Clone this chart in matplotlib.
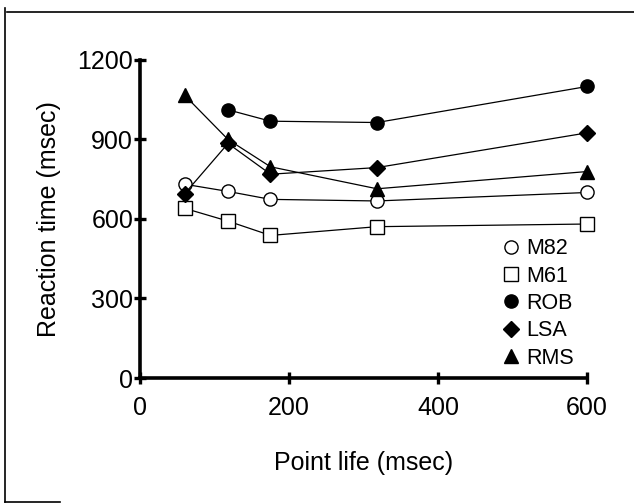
import numpy as np
import matplotlib.pyplot as plt
from matplotlib.lines import Line2D

plt.rcParams['font.family'] = ['Liberation Sans', 'DejaVu Sans']

# Vida do ponto (msec) e tempos de reacao (msec) por sujeito
vida = [60, 118, 175, 318, 600]
m82 = [731, 704, 674, 668, 700]
m61 = [640, 592, 538, 571, 581]
rob_x = [118, 175, 318, 600]
rob = [1012, 969, 964, 1100]
lsa = [696, 885, 769, 794, 925]
rms = [1066, 900, 797, 714, 779]

fig = plt.figure(figsize=(6.34, 5.04), dpi=100)
ax = fig.add_axes([0.221, 0.25, 0.705, 0.631])

estilo = dict(color='black', linewidth=0.9, markersize=9.5, clip_on=False,
              markeredgecolor='black', markeredgewidth=1.0)
ax.plot(vida, m82, marker='o', markerfacecolor='white', label='M82', **estilo)
ax.plot(vida, m61, marker='s', markerfacecolor='white', label='M61', **estilo)
ax.plot(rob_x, rob, marker='o', markerfacecolor='black', label='ROB', **estilo)
ax.plot(vida, lsa, marker='D', markerfacecolor='black', label='LSA', **dict(estilo, markersize=8.5))
ax.plot(vida, rms, marker='^', markerfacecolor='black', label='RMS', **estilo)

ax.set_xlim(0, 600)
ax.set_ylim(0, 1200)
ax.set_xticks([0, 200, 400, 600])
ax.set_yticks([0, 300, 600, 900, 1200])
for lado in ['top', 'right']:
    ax.spines[lado].set_visible(False)
for lado in ['left', 'bottom']:
    ax.spines[lado].set_linewidth(2.6)
ax.tick_params(direction='inout', length=8, width=2.4, labelsize=18)
ax.tick_params(axis='x', pad=9)
ax.tick_params(axis='y', pad=1)
ax.set_xlabel('Point life (msec)', fontsize=18, labelpad=22)
ax.set_ylabel('Reaction time (msec)', fontsize=18, labelpad=12)

leg = ax.legend(loc='upper left', bbox_to_anchor=(0.81, 0.44), frameon=False,
                fontsize=15.5, handlelength=0.8, handletextpad=0.3,
                labelspacing=0.3, borderpad=0, borderaxespad=0)
for h in leg.legend_handles:
    h.set_linestyle('none')

# moldura da figura
fig.add_artist(Line2D([0.011, 1.0], [0.976, 0.976], color='black', linewidth=1.2))
fig.add_artist(Line2D([0.008, 0.008], [0.003, 0.984], color='black', linewidth=1.2))
fig.add_artist(Line2D([0.008, 0.095], [0.003, 0.003], color='black', linewidth=1.2))

plt.savefig('out.png', dpi=100)
